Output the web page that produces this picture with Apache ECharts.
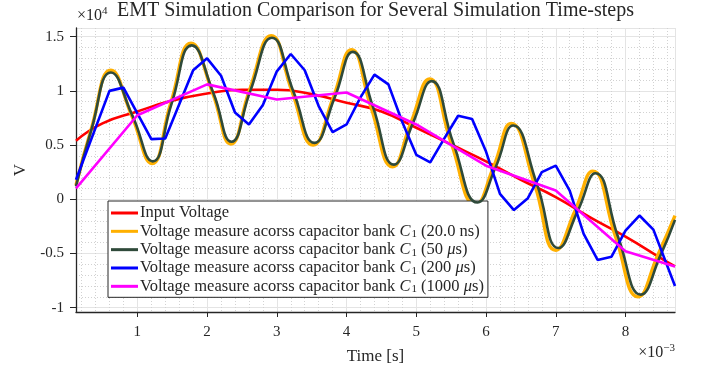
<!DOCTYPE html>
<html>
<head>
<meta charset="utf-8">
<script src="https://cdn.jsdelivr.net/npm/echarts@6/dist/echarts.min.js"></script>
<style>
  html, body { margin: 0; padding: 0; background: #fff; }
  #chart { width: 701px; height: 368px; }
</style>
</head>
<body>
<div id="chart"></div>
<script>
// time in ms (axis shows x10^-3 s), voltage in units of 1e4 V
const inputVoltage = [
  [0.12, 0.54], [0.5, 0.70], [1.0, 0.81], [1.5, 0.91], [2.0, 0.975], [2.5, 1.01],
  [3.0, 1.01], [3.5, 0.97], [4.0, 0.89], [4.5, 0.81], [5.0, 0.66], [5.5, 0.505],
  [6.0, 0.35], [6.5, 0.18], [7.0, 0.02], [7.5, -0.17], [8.0, -0.345], [8.5, -0.54], [8.71, -0.62]
];
const cap20ns = [
  [0.12, 0.13], [0.34, 0.65], [0.62, 1.19], [0.92, 0.77], [1.21, 0.33], [1.48, 0.89],
  [1.77, 1.44], [2.08, 0.98], [2.34, 0.51], [2.61, 1.01], [2.92, 1.51], [3.22, 0.99],
  [3.52, 0.50], [3.81, 0.94], [4.07, 1.38], [4.35, 0.85], [4.66, 0.30], [4.92, 0.70],
  [5.19, 1.11], [5.50, 0.52], [5.85, -0.05], [6.11, 0.30], [6.36, 0.70], [6.70, 0.13],
  [7.00, -0.47], [7.28, -0.10], [7.53, 0.26], [7.86, -0.35], [8.18, -0.90], [8.46, -0.52],
  [8.71, -0.15]
];
const cap50us = [
  [0.12, 0.12], [0.34, 0.64], [0.62, 1.17], [0.93, 0.77], [1.22, 0.35], [1.49, 0.88],
  [1.78, 1.42], [2.09, 0.98], [2.35, 0.53], [2.62, 1.00], [2.93, 1.49], [3.24, 0.99],
  [3.54, 0.52], [3.83, 0.94], [4.09, 1.36], [4.38, 0.85], [4.68, 0.32], [4.95, 0.70],
  [5.22, 1.09], [5.53, 0.52], [5.88, -0.03], [6.14, 0.30], [6.39, 0.68], [6.73, 0.14],
  [7.04, -0.45], [7.32, -0.10], [7.57, 0.24], [7.90, -0.36], [8.22, -0.88], [8.50, -0.52],
  [8.71, -0.19]
];
const cap200us = [
  [0.12, 0.18], [0.6, 1.00], [0.8, 1.03], [1.2, 0.555], [1.4, 0.56], [1.8, 1.19],
  [2.0, 1.30], [2.2, 1.14], [2.4, 0.80], [2.6, 0.69], [2.8, 0.87], [3.0, 1.18],
  [3.2, 1.34], [3.4, 1.19], [3.6, 0.86], [3.8, 0.62], [4.0, 0.69], [4.2, 0.94],
  [4.4, 1.15], [4.6, 1.06], [4.8, 0.71], [5.0, 0.41], [5.2, 0.34], [5.4, 0.56],
  [5.6, 0.77], [5.8, 0.74], [6.0, 0.44], [6.2, 0.05], [6.4, -0.10], [6.6, 0.01],
  [6.8, 0.25], [7.0, 0.31], [7.2, 0.08], [7.4, -0.32], [7.6, -0.56], [7.8, -0.53],
  [8.0, -0.29], [8.2, -0.15], [8.4, -0.28], [8.71, -0.80]
];
const cap1000us = [
  [0.12, 0.10], [1.0, 0.775], [2.0, 1.06], [3.0, 0.92], [4.0, 0.985], [5.0, 0.69],
  [6.0, 0.31], [7.0, 0.08], [8.0, -0.48], [8.71, -0.62]
];

const names = [
  "Input Voltage",
  "Voltage measure acorss capacitor bank C1 (20.0 ns)",
  "Voltage measure acorss capacitor bank C1 (50 us)",
  "Voltage measure acorss capacitor bank C1 (200 us)",
  "Voltage measure acorss capacitor bank C1 (1000 us)"
];
const legendText = {
  [names[0]]: "{t|Input Voltage}",
  [names[1]]: "{t|Voltage measure acorss capacitor bank }{c|C}{s|1}{t| (20.0 ns)}",
  [names[2]]: "{t|Voltage measure acorss capacitor bank }{c|C}{s|1}{t| (50 }{c|μ}{t|s)}",
  [names[3]]: "{t|Voltage measure acorss capacitor bank }{c|C}{s|1}{t| (200 }{c|μ}{t|s)}",
  [names[4]]: "{t|Voltage measure acorss capacitor bank }{c|C}{s|1}{t| (1000 }{c|μ}{t|s)}"
};

const serif = "'Liberation Serif', 'DejaVu Serif', serif";
const ink = "#262626";

const chart = echarts.init(document.getElementById("chart"));

function line(name, data, color, width, smooth, z) {
  return {
    name: name,
    type: "line",
    data: data,
    smooth: smooth,
    symbol: "none",
    z: z,
    lineStyle: { color: color, width: width },
    itemStyle: { color: color }
  };
}

chart.setOption({
  animation: false,
  backgroundColor: "#fff",
  grid: { left: 76, right: 26, top: 28, bottom: 56, outerBoundsMode: "none" },
  graphic: [
    {
      type: "text", x: 375.5, y: 1,
      style: { text: "EMT Simulation Comparison for Several Simulation Time-steps",
               font: "20px " + serif, fill: ink, align: "center", textAlign: "center" }
    },
    {
      type: "text", x: 77, y: 6,
      style: { text: "{a|×10}{b|4}", fill: ink,
               rich: { a: { font: "16px " + serif, fill: ink },
                       b: { font: "11px " + serif, fill: ink, padding: [0, 0, 8, 0] } } }
    },
    {
      type: "text", x: 675, y: 343,
      style: { text: "{a|×10}{b|−3}", fill: ink, align: "right",
               rich: { a: { font: "16px " + serif, fill: ink },
                       b: { font: "11px " + serif, fill: ink, padding: [0, 0, 8, 0] } } }
    }
  ],
  legend: {
    orient: "vertical",
    left: 108, top: 201,
    padding: [3, 4, 2, 3],
    icon: "rect",
    itemWidth: 27, itemHeight: 3, itemGap: 0.33,
    backgroundColor: "#fff",
    borderColor: ink, borderWidth: 1,
    data: names,
    formatter: function (n) { return legendText[n]; },
    textStyle: {
      lineHeight: 18,
      padding: [0, 0, 0, -3],
      rich: {
        t: { fontFamily: serif, fontSize: 16.5, color: ink, lineHeight: 18 },
        c: { fontFamily: serif, fontSize: 16.5, fontStyle: "italic", color: ink, lineHeight: 18 },
        s: { fontFamily: serif, fontSize: 11, color: ink, padding: [6, 0, 0, 1] }
      }
    }
  },
  xAxis: {
    type: "value",
    min: 0.12, max: 8.71,
    splitNumber: 9,
    name: "Time [s]",
    nameLocation: "middle",
    nameGap: 36,
    nameTextStyle: { fontFamily: serif, fontSize: 17, color: ink },
    axisLine: { show: true, onZero: false, lineStyle: { color: ink, width: 1.3 } },
    axisTick: { show: true, length: 5, lineStyle: { color: ink } },
    axisLabel: { fontFamily: serif, fontSize: 15, color: ink, margin: 13,
                 showMinLabel: false, showMaxLabel: false },
    splitLine: { show: true, lineStyle: { color: "#e4e4e4", width: 1 } },
    minorTick: { show: false, splitNumber: 5 },
    minorSplitLine: { show: true, lineStyle: { color: "#d2d2d2", width: 1, type: [1, 2] } }
  },
  yAxis: {
    type: "value",
    min: -1.04, max: 1.58,
    splitNumber: 5,
    name: "V",
    nameLocation: "middle",
    nameGap: 40,
    nameTextStyle: { fontFamily: serif, fontSize: 17, color: ink },
    axisLine: { show: true, onZero: false, lineStyle: { color: ink, width: 1.3 } },
    axisTick: { show: true, length: 6, lineStyle: { color: ink } },
    axisLabel: { fontFamily: serif, fontSize: 15, color: ink, margin: 12,
                 showMinLabel: false, showMaxLabel: false },
    splitLine: { show: true, lineStyle: { color: "#e4e4e4", width: 1 } },
    minorTick: { show: false, splitNumber: 5 },
    minorSplitLine: { show: true, lineStyle: { color: "#d2d2d2", width: 1, type: [1, 2] } }
  },
  series: [
    line(names[0], inputVoltage, "#ff0000", 2.6, true, 2),
    line(names[1], cap20ns, "#ffb000", 3.4, true, 3),
    line(names[2], cap50us, "#2f4a3a", 2.6, true, 4),
    line(names[3], cap200us, "#0000ff", 2.6, false, 5),
    line(names[4], cap1000us, "#ff00ff", 2.6, false, 6)
  ]
});
</script>
</body>
</html>
